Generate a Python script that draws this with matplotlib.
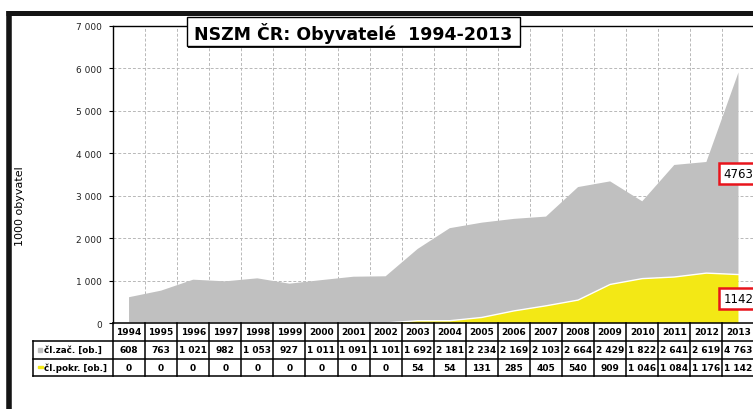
import matplotlib
matplotlib.use('Agg')
import matplotlib.pyplot as plt
from matplotlib.patches import Rectangle

years = [str(y) for y in range(1994, 2014)]
cl_zac = [608, 763, 1021, 982, 1053, 927, 1011, 1091, 1101, 1692,
          2181, 2234, 2169, 2103, 2664, 2429, 1822, 2641, 2619, 4763]
cl_pokr = [0, 0, 0, 0, 0, 0, 0, 0, 0, 54,
           54, 131, 285, 405, 540, 909, 1046, 1084, 1176, 1142]
row_labels = ['čl.zač. [ob.]', 'čl.pokr. [ob.]']
y_ticks = [0, 1000, 2000, 3000, 4000, 5000, 6000, 7000]
title = 'NSZM ČR: Obyvatelé  1994-2013'
y_title = '1000 obyvatel'

GREY = '#c0c0c0'
YELLOW = '#f3e815'
RED = '#e8141c'


def fmt(v):
    return f'{v:,}'.replace(',', ' ')


W, H = 753, 410
fig = plt.figure(figsize=(W / 100, H / 100), dpi=100)

# plot area in pixels (right edge runs just past the picture)
left, right, top, bottom = 113, 754.5, 27, 324
ax = fig.add_axes([left / W, 1 - bottom / H, (right - left) / W, (bottom - top) / H])
n = len(years)
x = list(range(n))
ax.stackplot(x, cl_pokr, cl_zac, colors=[YELLOW, GREY], linewidth=0)
ax.plot(x, cl_pokr, color='white', lw=1.0)

ax.set_xlim(-0.5, n - 0.5)
ax.set_ylim(0, 7000)
ax.set_yticks(y_ticks)
ax.set_yticklabels([fmt(v) for v in y_ticks], fontsize=6.5, color='#222222')
ax.tick_params(axis='y', length=3, width=0.8, pad=5)
ax.set_xticks([i + 0.5 for i in range(n - 1)])
ax.tick_params(axis='x', length=0, labelbottom=False)
ax.grid(True, ls=(0, (3, 2)), color='#b8b8b8', lw=0.7)
ax.set_axisbelow(True)
for s in ['right', 'bottom']:
    ax.spines[s].set_visible(False)
for s in ['left', 'top']:
    ax.spines[s].set_linewidth(1.0)

# data labels for the last year, centred on each stacked segment
box = dict(boxstyle='square,pad=0.35', fc='white', ec=RED, lw=1.8)
ax.text(n - 1, cl_pokr[-1] + cl_zac[-1] / 2, str(cl_zac[-1]), ha='center', va='center',
        fontsize=8.5, bbox=box, clip_on=False, zorder=5)
ax.text(n - 1, cl_pokr[-1] / 2, str(cl_pokr[-1]), ha='center', va='center',
        fontsize=8.5, bbox=box, clip_on=False, zorder=5)

fig.text(20 / W, 1 - 206 / H, y_title, rotation=90, ha='center', va='center', fontsize=8)

# overlay in pixel coordinates: frame, title box and data table
ov = fig.add_axes([0, 0, 1, 1], zorder=3)
ov.set_xlim(0, W)
ov.set_ylim(H, 0)
ov.axis('off')

ov.plot([8.7, 8.7], [12, H + 5], color='#141414', lw=4.0, solid_capstyle='butt', clip_on=False)
ov.plot([6.5, W + 5], [14.3, 14.3], color='#141414', lw=3.6, solid_capstyle='butt', clip_on=False)

ov.add_patch(Rectangle((188.5, 19.5), 333, 29, fc='#222222', ec='none'))
ov.add_patch(Rectangle((187, 18), 333, 29, fc='white', ec='black', lw=1.0))
ov.text(353.5, 33, title, ha='center', va='center', fontsize=12.5, fontweight='bold')

bw = (right - left) / n
edges = [left + i * bw for i in range(n + 1)]
rows = [324, 342, 359.5, 377]
lab_left = 33
line_kw = dict(color='black', lw=1.1, clip_on=False, solid_capstyle='projecting')
ov.plot([left, right], [rows[0], rows[0]], **line_kw)
for yy in rows[1:]:
    ov.plot([lab_left, right], [yy, yy], **line_kw)
for xx in edges:
    ov.plot([xx, xx], [rows[0], rows[-1]], **line_kw)
ov.plot([lab_left, lab_left], [rows[1], rows[-1]], **line_kw)

cell_kw = dict(ha='center', va='center', fontsize=6.5, fontweight='bold')
for i in range(n):
    cx = (edges[i] + edges[i + 1]) / 2
    ov.text(cx, (rows[0] + rows[1]) / 2, years[i], **cell_kw)
    ov.text(cx, (rows[1] + rows[2]) / 2, fmt(cl_zac[i]), **cell_kw)
    ov.text(cx, (rows[2] + rows[3]) / 2, fmt(cl_pokr[i]), **cell_kw)

ov.add_patch(Rectangle((38, (rows[1] + rows[2]) / 2 - 2), 4, 4, color=GREY))
ov.add_patch(Rectangle((38, (rows[2] + rows[3]) / 2 - 1), 5, 2, color=YELLOW))
for k, lab in enumerate(row_labels):
    ov.text(44, (rows[k + 1] + rows[k + 2]) / 2, lab, ha='left', va='center',
            fontsize=6.3, fontweight='bold')

fig.savefig('out.png', dpi=100)
